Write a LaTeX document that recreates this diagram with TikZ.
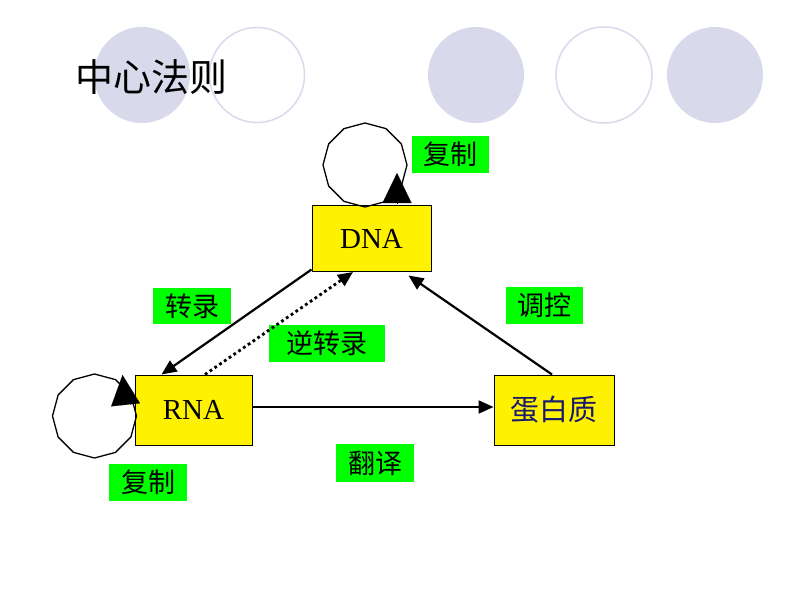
\documentclass[tikz,border=0pt]{standalone}
\usepackage{fontspec}
\setmainfont{Liberation Serif}
\newfontfamily\cjk{Noto Sans CJK SC}
\usepackage{xcolor}
\usepackage{tikz}
\usetikzlibrary{calc,arrows.meta}
\definecolor{lav}{RGB}{217,217,236}
\definecolor{tagGreen}{RGB}{0,255,0}
\definecolor{protBlue}{RGB}{25,25,110}

\begin{document}
\begin{tikzpicture}[x=1pt,y=-1pt]
  \tikzstyle{gene} = [draw=black,line width=1pt,fill=yellow,inner sep=0pt,font=\fontsize{29}{32}\selectfont]
  \tikzstyle{tag} = [fill=tagGreen,inner sep=0pt,minimum height=37pt,font=\cjk\fontsize{27}{30}\selectfont]
  \tikzstyle{flow} = [line width=2.2pt,-{Triangle[length=15pt,width=13pt]}]
  \tikzstyle{selfloop} = [line width=1.3pt]
  \tikzstyle{looptip} = [line width=0.1pt,-{Triangle[length=30pt,width=29pt]}]
  \useasboundingbox (0,0) rectangle (800,600);
  %
  % Decorative circles.
  \fill[lav] (142,75) circle (48);
  \draw[lav,line width=1.5pt] (257,75) circle (47.5);
  \fill[lav] (476,75) circle (48);
  \draw[lav,line width=1.5pt] (604,75) circle (48);
  \fill[lav] (715,75) circle (48);
  \node (title) at (151,77) {\cjk\fontsize{38}{40}\selectfont 中心法则};
  %
  % Boxes.
  \node[gene,minimum width=119pt,minimum height=66pt] (dna) at (371.5,238.5) {DNA};
  \node[gene,minimum width=117pt,minimum height=70pt] (rna) at (193.5,410) {RNA};
  \node[gene,minimum width=120pt,minimum height=70pt,font=\cjk\fontsize{29}{32}\selectfont,text=protBlue] (prot) at (554,410) {蛋白质};
  %
  % Labels.
  \node[tag,minimum width=77pt] (copyDna) at (450.5,154.5) {复制};
  \node[tag,minimum width=78pt] (copyRna) at (148,482.5) {复制};
  \node[tag,minimum width=78pt,minimum height=36pt] (transcr) at (192,306) {转录};
  \node[tag,minimum width=116pt] (revTranscr) at (327,343.5) {逆转录};
  \node[tag,minimum width=77pt] (regul) at (544.5,305.5) {调控};
  \node[tag,minimum width=78pt,minimum height=38pt] (transl) at (375,463) {翻译};
  %
  % Connectors.
  \draw[flow] ($(dna.south west)+(0,-2.5)$) -- ($(rna.north)+(-32,0)$);
  \draw[flow,line width=2.8pt,dash pattern=on 2.8pt off 3pt] ($(rna.north)+(11.5,0)$) -- ($(dna.south)+(-18.5,0)$);
  \draw[flow] ($(prot.north)+(-2,0)$) -- ($(dna.south east)+(-23,3.5)$);
  \draw[flow] ($(rna.east)+(0,-3)$) -- ($(prot.west)+(0,-3)$);
  %
  % Self loops.
  \draw[selfloop,shift={($(dna.north)+(-6.5,-40)$)}] plot[samples=13,domain=0:360] ({42*cos(\x)},{42*sin(\x)});
  \draw[looptip] ($(dna.north)+(25.5,-2)$) -- ($(dna.north)+(25.5,-32)$);
  \draw[selfloop,shift={($(rna.west)+(-40,6)$)}] plot[samples=13,domain=0:360] ({42*cos(\x)},{42*sin(\x)});
  \draw[looptip] ($(rna.west)+(-9,-6)$) -- ($(rna.west)+(-12,-35)$);
\end{tikzpicture}
\end{document}
